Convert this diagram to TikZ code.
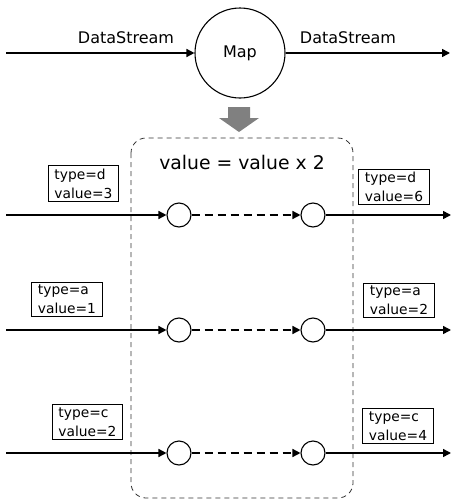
\documentclass[tikz,border=0pt]{standalone}
\usepackage{fontspec}
\setmainfont{DejaVu Sans}
\usetikzlibrary{arrows.meta}
\begin{document}
\begin{tikzpicture}[x=1pt,y=-1pt,
  flow/.style={line width=1.5pt,-{Triangle[length=8pt,width=8pt]}},
  dflow/.style={flow,dash pattern=on 8pt off 5pt},
  elem/.style={draw,circle,line width=1.1pt,minimum size=24pt,inner sep=0pt},
  rec/.style={draw,line width=1pt,align=left,font=\fontsize{13.8}{19}\selectfont,inner xsep=6pt,inner ysep=3pt},
  lbl/.style={font=\fontsize{16}{19}\selectfont}]
\useasboundingbox (0,0) rectangle (452,501);

% operator and its streams
\node[draw,circle,line width=1.1pt,minimum size=90pt,inner sep=0pt,lbl] (map) at (240,53) {Map};
\coordinate (in) at (6,53);
\coordinate (out) at (450,53);
\draw[flow] (in) -- (map);
\draw[flow] (map) -- (out);
\node[lbl] (dsin) at (126,38) {DataStream};
\node[lbl] (dsout) at (348,38) {DataStream};

% expansion arrow
\fill[black!50] (228,107) -- (250,107) -- (250,118) -- (259,118) -- (239,132) -- (219,118) -- (228,118) -- cycle;

% function body
\draw[black!80,line width=0.8pt,dash pattern=on 5pt off 4pt,rounded corners=15pt] (131,138) rectangle (353,498);
\node[font=\fontsize{18.8}{22}\selectfont] (fn) at (242,162) {value = value x 2};

% records
\foreach \i/\y/\lx/\ly/\rx/\ry/\t/\a/\b in {
  1/215/83.5/183.5/394/187/d/3/6,
  2/330/67/299.5/399/300.5/a/1/2,
  3/453/87.5/422/398/426/c/2/4} {
  \coordinate (s\i) at (6,\y);
  \coordinate (e\i) at (451,\y);
  \node[elem] (p\i) at (179,\y) {};
  \node[elem] (q\i) at (313,\y) {};
  \draw[flow] (s\i) -- (p\i);
  \draw[dflow] (p\i) -- (q\i);
  \draw[flow] (q\i) -- (e\i);
  \node[rec] (in\i) at (\lx,\ly) {type=\t\\value=\a};
  \node[rec] (out\i) at (\rx,\ry) {type=\t\\value=\b};
}
\end{tikzpicture}
\end{document}
